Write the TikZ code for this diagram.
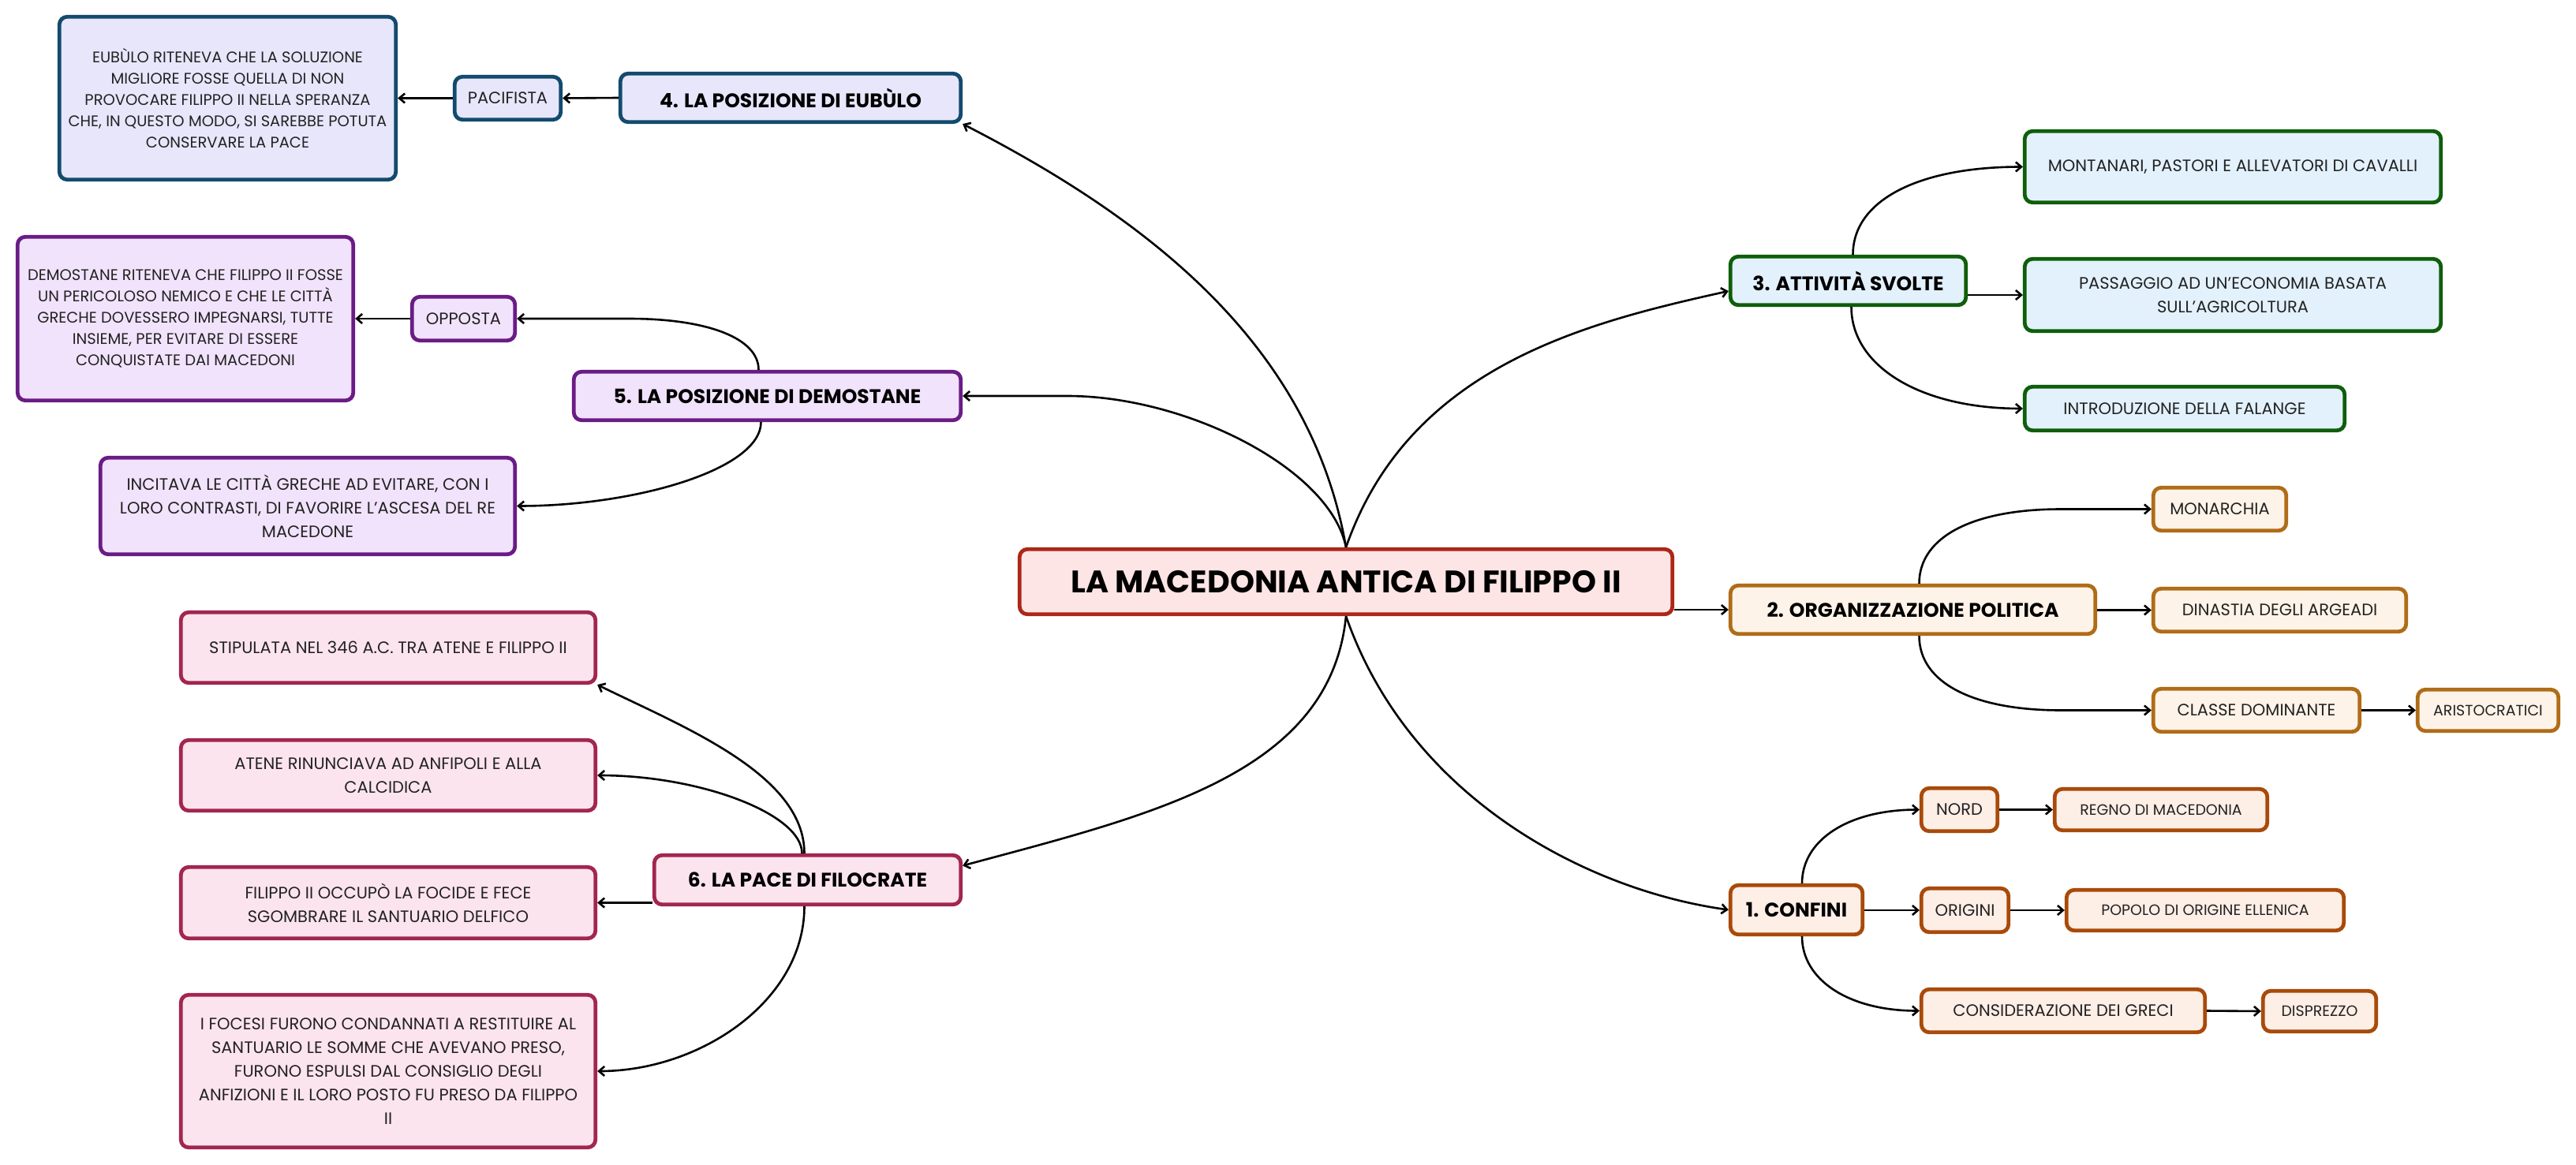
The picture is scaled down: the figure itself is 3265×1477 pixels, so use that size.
\documentclass[tikz,border=0pt]{standalone}
\usepackage{fontspec}
\setmainfont{Poppins}
\usetikzlibrary{arrows.meta}
\definecolor{rootF}{HTML}{FDE5E5}\definecolor{rootD}{HTML}{AC2718}
\definecolor{cFourF}{HTML}{E8E6FB}\definecolor{cFourD}{HTML}{124B6E}
\definecolor{cFiveF}{HTML}{F1E3FB}\definecolor{cFiveD}{HTML}{6A1C86}
\definecolor{cSixF}{HTML}{FCE4EE}\definecolor{cSixD}{HTML}{A2264F}
\definecolor{cThreeF}{HTML}{E3F1FC}\definecolor{cThreeD}{HTML}{0E5E0A}
\definecolor{cTwoF}{HTML}{FEF3E8}\definecolor{cTwoD}{HTML}{B06C17}
\definecolor{cOneF}{HTML}{FDEEE6}\definecolor{cOneD}{HTML}{A94A0A}
\definecolor{txt}{HTML}{222222}
\begin{document}
\begin{tikzpicture}[x=1pt,y=-1pt,
  box/.style={draw, rounded corners=10pt, line width=4.8pt, inner sep=0pt, align=center,
    text=txt, font=\fontsize{21}{30}\selectfont},
  small/.style={box, font=\fontsize{19}{28}\selectfont},
  dense/.style={box, font=\fontsize{19.5}{27}\selectfont},
  main/.style={box, text=black, font=\bfseries\fontsize{25}{30}\selectfont},
  rootbox/.style={box, text=black, fill=rootF, draw=rootD, font=\bfseries\fontsize{39.5}{44}\selectfont},
  gFour/.style={fill=cFourF, draw=cFourD},
  gFive/.style={fill=cFiveF, draw=cFiveD},
  gSix/.style={fill=cSixF, draw=cSixD},
  gThree/.style={fill=cThreeF, draw=cThreeD},
  gTwo/.style={fill=cTwoF, draw=cTwoD},
  gOne/.style={fill=cOneF, draw=cOneD},
  conn/.style={line width=2.6pt, -{Straight Barb[length=7pt,width=12pt]}},
  sz/.style 2 args={minimum width=#1pt, minimum height=#2pt}
]
\fill[white] (0,0) rectangle (3265,1477);
\useasboundingbox (0,0) rectangle (3265,1477);

% root
\node[rootbox, sz={827.5}{82.5}] (root) at (1706,737.5) {LA MACEDONIA ANTICA DI FILIPPO II};

% branch 4
\node[main, gFour, sz={431.5}{61.5}] (b4) at (1002,124) {4. LA POSIZIONE DI EUBÙLO};
\node[box, gFour, sz={134.5}{54.5}] (pac) at (643.5,124.5) {PACIFISTA};
\node[dense, gFour, sz={426.5}{206.5}] (eub) at (288.5,124.5) {EUBÙLO RITENEVA CHE LA SOLUZIONE\\MIGLIORE FOSSE QUELLA DI NON\\PROVOCARE FILIPPO II NELLA SPERANZA\\CHE, IN QUESTO MODO, SI SAREBBE POTUTA\\CONSERVARE LA PACE};

% branch 5
\node[main, gFive, sz={490.5}{61.5}] (b5) at (972.5,502) {5. LA POSIZIONE DI DEMOSTANE};
\node[box, gFive, sz={130.5}{55.5}] (opp) at (587.5,404) {OPPOSTA};
\node[dense, gFive, sz={425.5}{207.5}] (dem) at (235,404) {DEMOSTANE RITENEVA CHE FILIPPO II FOSSE\\UN PERICOLOSO NEMICO E CHE LE CITTÀ\\GRECHE DOVESSERO IMPEGNARSI, TUTTE\\INSIEME, PER EVITARE DI ESSERE\\CONQUISTATE DAI MACEDONI};
\node[box, gFive, sz={525.5}{122.5}] (inc) at (390,641.5) {INCITAVA LE CITTÀ GRECHE AD EVITARE, CON I\\LORO CONTRASTI, DI FAVORIRE L'ASCESA DEL RE\\MACEDONE};

% branch 6
\node[main, gSix, sz={388.5}{62.5}] (b6) at (1023.5,1115.5) {6. LA PACE DI FILOCRATE};
\node[box, gSix, sz={525.5}{89.5}] (sti) at (492,821) {STIPULATA NEL 346 A.C. TRA ATENE E FILIPPO II};
\node[box, gSix, sz={525.5}{89.5}] (ate) at (492,983) {ATENE RINUNCIAVA AD ANFIPOLI E ALLA\\CALCIDICA};
\node[box, gSix, sz={525.5}{90.5}] (fil) at (492,1144.5) {FILIPPO II OCCUPÒ LA FOCIDE E FECE\\SGOMBRARE IL SANTUARIO DELFICO};
\node[box, gSix, sz={525.5}{193.5}] (foc) at (492,1358) {I FOCESI FURONO CONDANNATI A RESTITUIRE AL\\SANTUARIO LE SOMME CHE AVEVANO PRESO,\\FURONO ESPULSI DAL CONSIGLIO DEGLI\\ANFIZIONI E IL LORO POSTO FU PRESO DA FILIPPO\\II};

% branch 3
\node[main, gThree, sz={298.5}{61.5}] (b3) at (2342.5,356) {3. ATTIVITÀ SVOLTE};
\node[box, gThree, sz={527.5}{90.5}] (mon) at (2830,211.5) {MONTANARI, PASTORI E ALLEVATORI DI CAVALLI};
\node[box, gThree, sz={527.5}{91.5}] (pas) at (2830,374) {PASSAGGIO AD UN'ECONOMIA BASATA\\SULL'AGRICOLTURA};
\node[box, gThree, sz={405.5}{55.5}] (int) at (2769,518) {INTRODUZIONE DELLA FALANGE};

% branch 2
\node[main, gTwo, sz={462.5}{61.5}] (b2) at (2424.5,773) {2. ORGANIZZAZIONE POLITICA};
\node[box, gTwo, sz={168.5}{54.5}] (mona) at (2813.5,645.5) {MONARCHIA};
\node[box, gTwo, sz={320.5}{54.5}] (din) at (2889.5,773.5) {DINASTIA DEGLI ARGEADI};
\node[box, gTwo, sz={261.5}{54.5}] (cla) at (2860,900.5) {CLASSE DOMINANTE};
\node[small, gTwo, sz={178.5}{52.5}] (ari) at (3153.5,900.5) {ARISTOCRATICI};

% branch 1
\node[main, gOne, sz={167.5}{62.5}] (b1) at (2277,1153.5) {1. CONFINI};
\node[box, gOne, sz={96.5}{54.5}] (nord) at (2483.5,1026.5) {NORD};
\node[small, gOne, sz={269.5}{52.5}] (reg) at (2739,1026.5) {REGNO DI MACEDONIA};
\node[box, gOne, sz={110.5}{55.5}] (ori) at (2490.5,1154) {ORIGINI};
\node[small, gOne, sz={351.5}{51.5}] (pop) at (2795,1154) {POPOLO DI ORIGINE ELLENICA};
\node[box, gOne, sz={359.5}{54.5}] (con) at (2615,1281.5) {CONSIDERAZIONE DEI GRECI};
\node[small, gOne, sz={143.5}{51.5}] (dis) at (2940,1282) {DISPREZZO};

% helper coordinates
\coordinate (k5) at (1353,502);
\coordinate (k5o) at (797,404);
\coordinate (k2a) at (2612,645.5);
\coordinate (k2c) at (2612,900.5);

% root connectors
\draw[conn] (root.north) .. controls +(-45,-260) and +(230,118) .. (b4.south east);
\draw[conn] (root.north) .. controls +(-20,-100) and +(150,0) .. (k5) -- (b5.east);
\draw[conn] (root.north) .. controls +(80,-230) and +(-180,40) .. ([yshift=-13pt]b3.west);
\draw[conn] (root.east |- b2.west) -- (b2.west);
\draw[conn] (root.south) .. controls +(-20,200) and +(241,-65) .. ([yshift=18pt]b6.east);
\draw[conn] (root.south) .. controls +(80,230) and +(-180,-25) .. (b1.west);

% branch 4
\draw[conn] (b4.west) -- (pac.east);
\draw[conn] (pac.west) -- (eub.east);
% branch 5
\draw[conn] ([xshift=-11pt]b5.north) .. controls +(0,-40) and +(100,0) .. (k5o) -- (opp.east);
\draw[conn] (opp.west) -- (dem.east);
\draw[conn] ([xshift=-8pt]b5.south) .. controls +(0,60) and +(150,0) .. (inc.east);
% branch 6
\draw[conn] ([xshift=-4pt]b6.north) .. controls +(0,-100) and +(110,54) .. (sti.south east);
\draw[conn] ([xshift=-7pt]b6.north) .. controls +(0,-50) and +(130,0) .. (ate.east);
\draw[conn] (b6.west |- fil.east) -- (fil.east);
\draw[conn] ([xshift=-4pt]b6.south) .. controls +(0,120) and +(130,0) .. (foc.east);
% branch 3
\draw[conn] ([xshift=6pt]b3.north) .. controls +(0,-70) and +(-130,0) .. (mon.west);
\draw[conn] (b3.east |- pas.west) -- (pas.west);
\draw[conn] ([xshift=4pt]b3.south) .. controls +(0,75) and +(-130,0) .. (int.west);
% branch 2
\draw[conn] ([xshift=8pt]b2.north) .. controls +(0,-60) and +(-110,0) .. (k2a) -- (mona.west);
\draw[conn] (b2.east |- din.west) -- (din.west);
\draw[conn] ([xshift=8pt]b2.south) .. controls +(0,60) and +(-110,0) .. (k2c) -- (cla.west);
\draw[conn] (cla.east) -- (ari.west);
% branch 1
\draw[conn] ([xshift=7pt]b1.north) .. controls +(0,-55) and +(-90,0) .. (nord.west);
\draw[conn] (b1.east |- ori.west) -- (ori.west);
\draw[conn] ([xshift=7pt]b1.south) .. controls +(0,55) and +(-90,0) .. (con.west);
\draw[conn] (nord.east) -- (reg.west);
\draw[conn] (ori.east) -- (pop.west);
\draw[conn] (con.east) -- (dis.west);
\end{tikzpicture}
\end{document}
